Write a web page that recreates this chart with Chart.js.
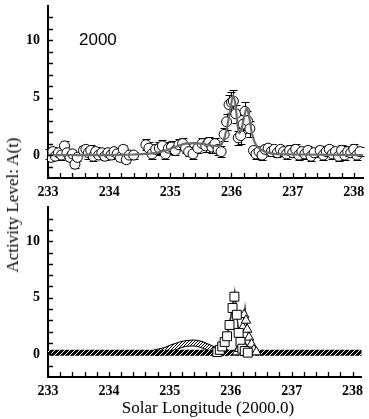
<!DOCTYPE html>
<html><head><meta charset="utf-8">
<script src="https://cdn.jsdelivr.net/npm/chart.js@4/dist/chart.umd.min.js"></script>
<style>
html,body{margin:0;padding:0;background:#fff;}
#wrap{position:relative;width:369px;height:419px;overflow:hidden;}
canvas{position:absolute;left:0;}
.t{position:absolute;font-family:'Liberation Serif',serif;color:#000;white-space:nowrap;}
</style></head><body>
<div id="wrap">
<canvas id="top" width="369" height="200" style="top:0"></canvas>
<canvas id="bot" width="369" height="219" style="top:200px"></canvas>
<div class="t" style="left:79px;top:30px;font-family:'Liberation Sans',sans-serif;font-size:17px;">2000</div>
<div class="t" style="left:208px;top:408px;font-size:17px;transform:translate(-50%,-50%);">Solar Longitude (2000.0)</div>
<div class="t" style="left:13px;top:205px;font-size:17px;transform:translate(-50%,-50%) rotate(-90deg);">Activity Level: A(t)</div>
</div>
<script>
// ---- data ----
const xTickLabels = [233, 234, 235, 236, 237, 238];
const yTickLabels = [0, 5, 10];

// Top panel: observed activity with error bars
const obsX = [233.02,233.05,233.08,233.12,233.17,233.22,233.27,233.31,233.36,233.40,233.44,233.48,
  233.58,233.62,233.66,233.70,233.74,233.78,233.83,233.88,233.93,233.98,234.03,234.08,234.13,234.18,
  234.23,234.28,234.33,234.40,234.60,234.65,234.70,234.76,234.82,234.87,234.92,234.97,235.02,235.08,
  235.14,235.20,235.25,235.30,235.37,235.45,235.52,235.58,235.63,235.68,235.73,235.78,235.83,235.88,
  235.92,235.96,236.00,236.03,236.07,236.11,236.15,236.19,236.22,236.26,236.30,236.36,236.40,236.45,
  236.50,236.55,236.60,236.65,236.70,236.75,236.80,236.85,236.90,236.95,237.00,237.05,237.10,237.15,
  237.20,237.25,237.30,237.35,237.45,237.50,237.55,237.60,237.65,237.70,237.75,237.80,237.85,237.90,
  237.95,238.00,238.05,238.10];
const obsY = [0.1,-0.2,0.3,-0.1,0.2,0.0,0.8,0.2,-0.2,0.1,-0.8,-0.2,
  0.4,0.5,0.2,0.4,-0.1,0.3,0.0,0.2,-0.1,0.2,0.0,0.3,0.1,-0.2,
  0.5,-0.4,0.0,0.0,0.9,0.6,0.1,0.5,0.6,0.8,0.1,0.6,0.7,0.4,
  0.9,1.0,0.6,0.3,0.1,0.6,1.0,0.8,1.1,0.7,1.0,0.5,0.3,1.8,
  2.9,4.4,4.6,4.7,3.6,1.5,1.7,2.7,3.8,3.0,2.3,0.4,0.1,0.3,
  0.0,0.5,0.6,0.3,0.5,0.2,0.5,0.3,0.1,0.4,0.2,0.5,0.0,0.3,
  0.1,0.4,-0.1,0.2,0.4,0.0,0.3,0.5,0.1,0.3,-0.1,0.4,0.0,0.3,
  0.2,0.5,0.0,0.3];
const obsErr = [0.4,0.3,0.4,0.3,0.3,0.4,0.4,0.3,0.3,0.3,0.3,0.3,
  0.4,0.4,0.5,0.5,0.4,0.4,0.3,0.3,0.3,0.3,0.3,0.3,0.3,0.3,
  0.4,0.3,0.3,0.3,0.5,0.5,0.4,0.5,0.5,0.5,0.4,0.5,0.5,0.4,
  0.5,0.5,0.4,0.4,0.4,0.4,0.5,0.5,0.5,0.5,0.5,0.5,0.5,0.6,
  0.7,0.8,0.9,1.0,0.8,0.6,0.7,0.8,0.8,0.8,0.7,0.4,0.4,0.4,
  0.4,0.4,0.4,0.4,0.4,0.4,0.4,0.4,0.4,0.5,0.4,0.5,0.4,0.4,
  0.4,0.4,0.4,0.4,0.4,0.4,0.4,0.4,0.4,0.4,0.4,0.5,0.4,0.5,
  0.4,0.5,0.4,0.4];

// Top panel: model curve
const modelX = [233.0,234.0,234.4,234.7,234.9,235.1,235.25,235.4,235.55,235.7,235.8,235.87,235.93,235.98,
  236.03,236.07,236.10,236.13,236.17,236.21,236.25,236.29,236.33,236.38,236.45,236.55,236.70,237.0,238.15];
const modelY = [0.0,0.0,0.05,0.15,0.35,0.75,1.0,1.05,0.95,0.8,0.8,1.3,2.5,4.0,
  5.2,4.2,2.6,1.9,2.4,3.4,4.1,3.3,2.0,1.1,0.6,0.3,0.1,0.05,0.0];

// Bottom panel: components
const baseX = [233.0, 238.15];
const baseY = [0.15, 0.15];
const broadX = [234.75,234.9,235.02,235.15,235.27,235.38,235.5,235.62,235.73,235.85,235.95];
const broadY = [0.15,0.3,0.55,0.8,0.97,1.0,0.9,0.65,0.4,0.22,0.15];
const sqX = [235.78,235.82,235.86,235.90,235.94,235.98,236.03,236.06,236.10,236.13,236.16,236.19,236.23,236.28];
const sqY = [0.2,0.4,0.7,1.1,1.6,2.6,4.1,5.1,3.5,1.9,1.1,0.5,0.3,0.15];
const sqLineX = [235.78,235.88,235.95,236.00,236.04,236.065,236.09,236.12,236.16,236.22,236.28];
const sqLineY = [0.2,0.9,2.0,3.4,4.8,5.6,4.2,2.4,1.0,0.3,0.15];
const triX = [236.10,236.14,236.17,236.20,236.22,236.25,236.27,236.30,236.34,236.38,236.42];
const triY = [0.2,0.5,1.2,2.4,3.5,3.0,2.2,1.5,0.9,0.4,0.2];
const triLineX = [236.10,236.16,236.20,236.235,236.27,236.31,236.36,236.42];
const triLineY = [0.2,1.0,2.6,4.2,2.6,1.4,0.6,0.2];

// ---- helpers ----
function pts(xs, ys){ return xs.map((x,i)=>({x:x, y:ys[i]})); }
function hatch(bg, fg, n){
  const c=document.createElement('canvas'); c.width=n; c.height=n;
  const g=c.getContext('2d'); g.fillStyle=bg; g.fillRect(0,0,n,n);
  g.strokeStyle=fg; g.lineWidth=1; g.beginPath(); g.moveTo(0,n); g.lineTo(n,0); g.stroke();
  return g.createPattern(c,'repeat');
}

const inwardTicks = {
  id:'inwardTicks',
  afterDatasetsDraw(chart){
    const ctx=chart.ctx, a=chart.chartArea, xs=chart.scales.x, ys=chart.scales.y;
    ctx.save(); ctx.strokeStyle='#000'; ctx.lineWidth=1.3;
    ctx.beginPath();
    for(let k=0;k<=25;k++){ const v=233+k*0.2; const px=Math.round(xs.getPixelForValue(v))+0.5;
      if(px>a.right) break; ctx.moveTo(px,a.bottom); ctx.lineTo(px,a.bottom-5); }
    for(let v=-1; v<=12; v++){ const py=Math.round(ys.getPixelForValue(v))+0.5;
      ctx.moveTo(a.left,py); ctx.lineTo(a.left+5,py); }
    ctx.stroke(); ctx.restore();
  }
};

const errorBars = {
  id:'errorBars',
  beforeDatasetsDraw(chart, args, opts){
    if(!opts.enabled) return;
    const ctx=chart.ctx, xs=chart.scales.x, ys=chart.scales.y;
    ctx.save(); ctx.strokeStyle='#000'; ctx.lineWidth=1; ctx.beginPath();
    obsX.forEach((x,i)=>{
      const px=Math.round(xs.getPixelForValue(x))+0.5;
      const y1=Math.round(ys.getPixelForValue(obsY[i]+obsErr[i]))+0.5;
      const y2=Math.round(ys.getPixelForValue(obsY[i]-obsErr[i]))+0.5;
      ctx.moveTo(px,y1); ctx.lineTo(px,y2);
      ctx.moveTo(px-4,y1); ctx.lineTo(px+4,y1);
      ctx.moveTo(px-4,y2); ctx.lineTo(px+4,y2);
    });
    ctx.stroke(); ctx.restore();
  }
};

const tickFont = {family:"'Liberation Serif', serif", size:14, weight:'bold'};
function scalesCfg(xHeight){
  return {
    x:{type:'linear', min:233, max:238.15,
      afterFit:(s)=>{ s.height=xHeight; s.paddingLeft=0; s.paddingRight=0; },
      afterBuildTicks:(s)=>{ s.ticks=xTickLabels.map(v=>({value:v})); },
      ticks:{autoSkip:false, maxRotation:0, padding:6, color:'#000', font:tickFont, callback:(v)=>String(v)},
      grid:{display:false, drawTicks:false},
      border:{display:true, color:'#000', width:2}},
    y:{type:'linear', min:-2, max:13,
      afterFit:(s)=>{ s.width=48; s.paddingTop=0; s.paddingBottom=0; },
      afterBuildTicks:(s)=>{ s.ticks=yTickLabels.map(v=>({value:v})); },
      ticks:{padding:8, color:'#000', font:tickFont, callback:(v)=>String(v)},
      grid:{display:false, drawTicks:false},
      border:{display:true, color:'#000', width:2}}
  };
}

Chart.defaults.animation=false;

new Chart(document.getElementById('top'), {
  type:'scatter',
  data:{datasets:[
    {type:'line', data:pts(modelX,modelY), borderColor:'#6e6e6e', borderWidth:2.2, pointRadius:0,
      cubicInterpolationMode:'monotone', fill:false, order:0},
    {data:pts(obsX,obsY), pointRadius:5, pointBackgroundColor:'#fff', pointBorderColor:'#000',
      pointBorderWidth:1, showLine:false, order:1}
  ]},
  options:{responsive:false, devicePixelRatio:1,
    layout:{padding:{top:5,right:5,left:0,bottom:0}},
    plugins:{legend:{display:false}, tooltip:{enabled:false}, errorBars:{enabled:true}},
    scales:scalesCfg(22)},
  plugins:[errorBars, inwardTicks]
});

new Chart(document.getElementById('bot'), {
  type:'scatter',
  data:{datasets:[
    {type:'line', data:pts(sqLineX,sqLineY), borderColor:'#333', borderWidth:1.3, pointRadius:0, tension:0, order:1},
    {type:'line', data:pts(triLineX,triLineY), borderColor:'#333', borderWidth:1.3, pointRadius:0, tension:0, order:1},
    {data:pts(sqX,sqY), pointStyle:'rect', pointRadius:6.3, pointBackgroundColor:'#fff', pointBorderColor:'#000',
      pointBorderWidth:1, showLine:true, borderColor:'#333', borderWidth:1.2, order:0},
    {data:pts(triX,triY), pointStyle:'triangle', pointRadius:5.5, pointBackgroundColor:'#fff', pointBorderColor:'#000',
      pointBorderWidth:1, showLine:true, borderColor:'#333', borderWidth:1.2, order:0},
    {type:'line', data:pts(broadX,broadY), borderColor:hatch('#fff','#000',3), borderWidth:5, pointRadius:0,
      cubicInterpolationMode:'monotone', order:3},
    {type:'line', data:pts(broadX,broadY), borderColor:'#000', borderWidth:7, pointRadius:0,
      cubicInterpolationMode:'monotone', order:4},
    {type:'line', data:pts(baseX,baseY), borderColor:hatch('#000','#fff',5), borderWidth:6, pointRadius:0, order:2}
  ]},
  options:{responsive:false, devicePixelRatio:1,
    layout:{padding:{top:4,right:5,left:0,bottom:0}},
    plugins:{legend:{display:false}, tooltip:{enabled:false}, errorBars:{enabled:false}},
    scales:scalesCfg(42)},
  plugins:[errorBars, inwardTicks]
});
</script>
</body></html>
